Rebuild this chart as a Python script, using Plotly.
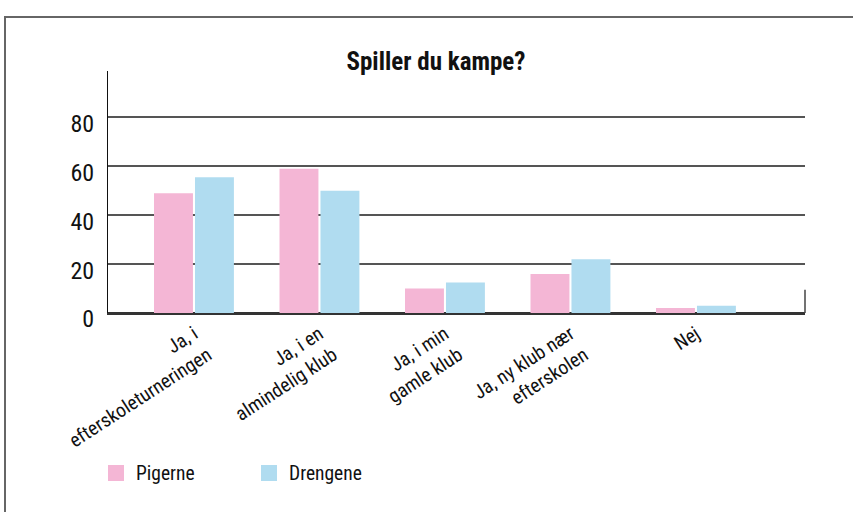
import plotly.graph_objects as go

categories = ["Ja, i<br>efterskoleturneringen", "Ja, i en<br>almindelig klub", "Ja, i min<br>gamle klub",
              "Ja, ny klub nær<br>efterskolen", "Nej"]
series_names = ["Pigerne", "Drengene"]
pigerne = [49, 59, 10, 16, 2]
drengene = [55.5, 50, 12.5, 22, 3]
y_ticks = [0, 20, 40, 60, 80]

FONT = "Liberation Sans Narrow, Roboto Condensed, DejaVu Sans Condensed, Arial Narrow, Roboto, sans-serif"
PINK = "#f4b6d5"
BLUE = "#b0dcf0"

fig = go.Figure()
fig.add_trace(go.Bar(x=list(range(len(categories))), y=pigerne, name=series_names[0],
                     marker=dict(color=PINK, line_width=0)))
fig.add_trace(go.Bar(x=list(range(len(categories))), y=drengene, name=series_names[1],
                     marker=dict(color=BLUE, line_width=0)))

W, H = 853, 512
L, R, T, B = 108, 48, 71, 199
pw = W - L - R
ph = H - T - B


def px(xp):
    return (xp - L) / pw


def py(yp):
    return (H - B - yp) / ph


shapes = [
    # outer frame (top and left edges visible)
    dict(type="rect", xref="paper", yref="paper",
         x0=px(5), x1=px(W + 20), y0=py(H + 20), y1=py(17),
         line=dict(color="#666666", width=2), layer="below"),
    # short right axis stub
    dict(type="line", xref="paper", yref="y", x0=1, x1=1, y0=0, y1=9.5,
         line=dict(color="#444444", width=1.5)),
]
annotations = []
legend_x = [108, 261]
for name, col, lx in zip(series_names, [PINK, BLUE], legend_x):
    shapes.append(dict(type="rect", xref="paper", yref="paper",
                       x0=px(lx), x1=px(lx + 16), y0=py(481), y1=py(465),
                       fillcolor=col, line_width=0))
    annotations.append(dict(text=name, xref="paper", yref="paper", x=px(lx + 26), y=py(473),
                            xanchor="left", yanchor="middle", showarrow=False,
                            font=dict(size=19.5, family=FONT, color="#111111")))

fig.update_layout(
    width=W, height=H,
    margin=dict(l=L, r=R, t=T, b=B),
    paper_bgcolor="white", plot_bgcolor="white",
    font=dict(family=FONT, color="#111111", size=16),
    title=dict(text="<b>Spiller du kampe?</b>", x=436 / W, xanchor="center",
               y=1 - 61 / H, yanchor="middle", font=dict(size=25, family=FONT)),
    barmode="group", bargap=0.347, bargroupgap=0.05,
    showlegend=False,
    shapes=shapes, annotations=annotations,
)
fig.update_xaxes(
    tickmode="array", tickvals=list(range(len(categories))), ticktext=categories,
    range=[-0.685, 4.869], tickangle=-33, showgrid=False, ticks="",
    showline=True, linecolor="#333333", linewidth=2,
    tickfont=dict(size=19.5, family=FONT), zeroline=False,
)
fig.update_yaxes(
    range=[0, 99], tickmode="array", tickvals=y_ticks, ticktext=[str(v) for v in y_ticks],
    showgrid=True, gridcolor="#555555", gridwidth=1.5,
    showline=True, linecolor="#111111", linewidth=1, ticks="",
    tickfont=dict(size=24, family=FONT), zeroline=True, zerolinecolor="#333333", zerolinewidth=2,
    ticklabelstandoff=8, ticklabelshift=6,
)

fig.write_html("out.html", config={"displayModeBar": False},
               post_script="document.body.style.margin='0';")
